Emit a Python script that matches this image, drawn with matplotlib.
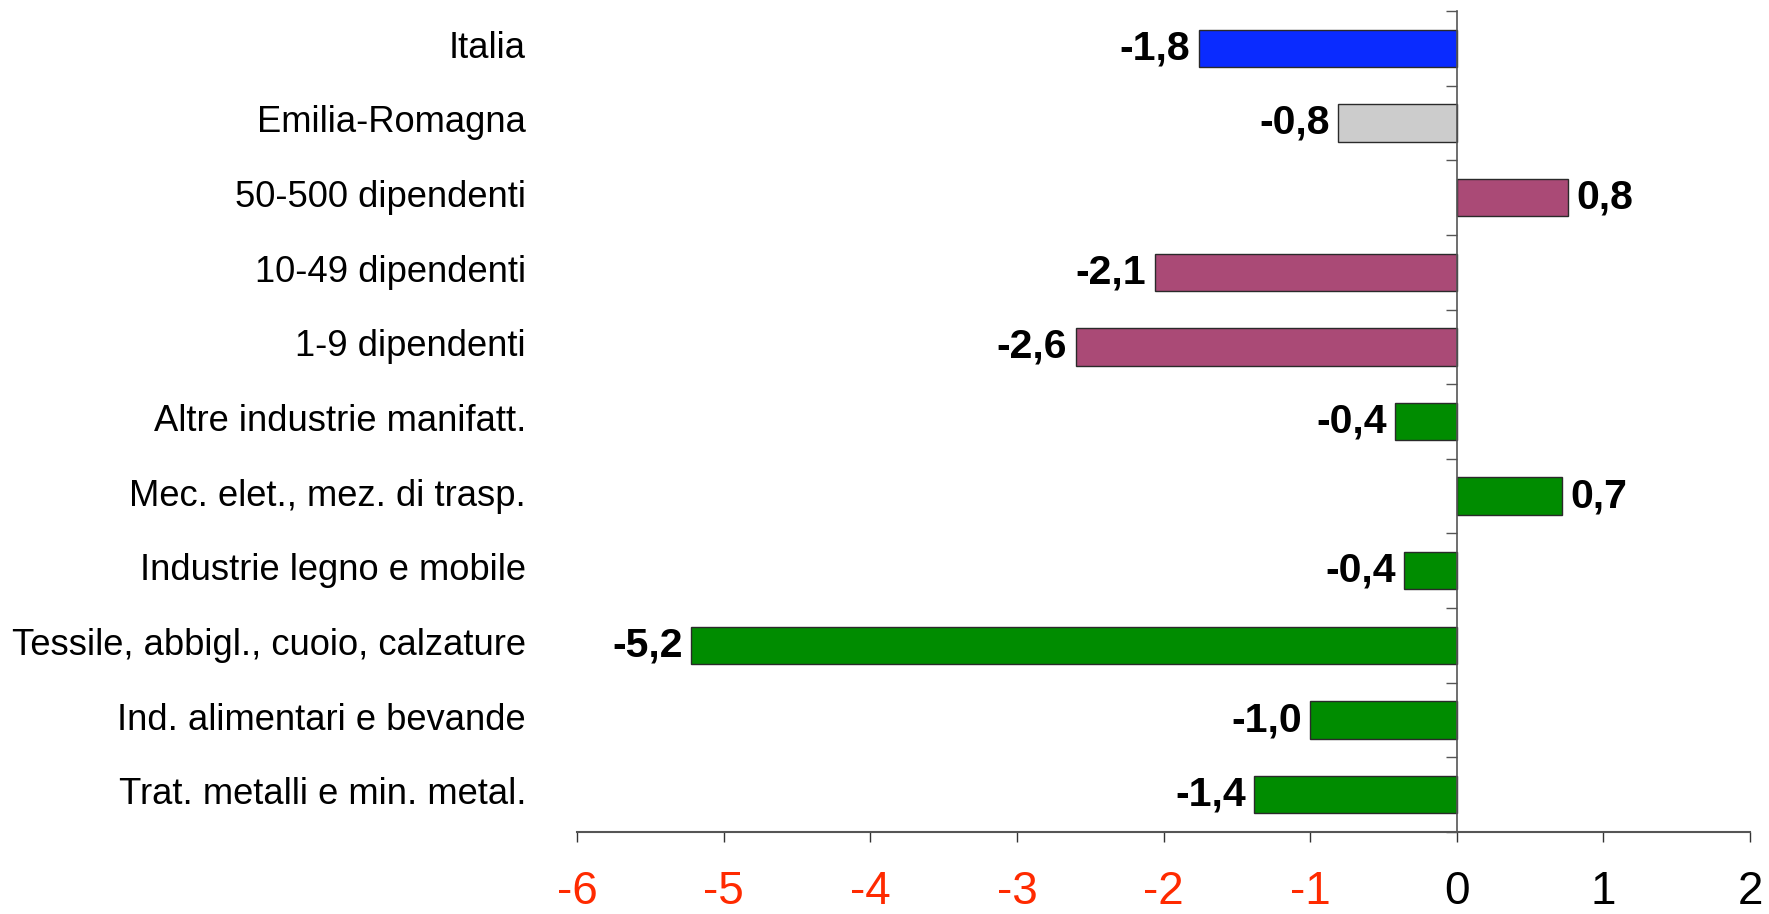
import matplotlib
matplotlib.use("Agg")
import matplotlib.pyplot as plt

categories = [
    "Italia",
    "Emilia-Romagna",
    "50-500 dipendenti",
    "10-49 dipendenti",
    "1-9 dipendenti",
    "Altre industrie manifatt.",
    "Mec. elet., mez. di trasp.",
    "Industrie legno e mobile",
    "Tessile, abbigl., cuoio, calzature",
    "Ind. alimentari e bevande",
    "Trat. metalli e min. metal.",
]
values = [-1.76, -0.81, 0.76, -2.06, -2.60, -0.42, 0.72, -0.36, -5.22, -1.00, -1.38]
value_labels = ["-1,8", "-0,8", "0,8", "-2,1", "-2,6", "-0,4", "0,7", "-0,4", "-5,2", "-1,0", "-1,4"]
bar_colors = ["#0A2BFF", "#CCCCCC", "#AA4A76", "#AA4A76", "#AA4A76",
              "#008C00", "#008C00", "#008C00", "#008C00", "#008C00", "#008C00"]
x_ticks = [-6, -5, -4, -3, -2, -1, 0, 1, 2]

plt.rcParams["font.family"] = ["Liberation Sans", "DejaVu Sans"]

fig = plt.figure(figsize=(17.69, 9.14), dpi=100)
ax = fig.add_axes([0.3262, 0.0897, 0.9893 - 0.3262, 0.988 - 0.0897])

n = len(categories)
ypos = [n - 1 - i for i in range(n)]
ax.barh(ypos, values, height=0.5, color=bar_colors, edgecolor="#2a2a2a", linewidth=1.0, zorder=2)

ax.set_xlim(-6, 2)
ax.set_ylim(-0.5, n - 0.5)

# spines
for s in ["top", "right"]:
    ax.spines[s].set_visible(False)
ax.spines["left"].set_position(("data", 0))
ax.spines["left"].set_color("#555555")
ax.spines["left"].set_linewidth(1.2)
ax.spines["bottom"].set_color("#555555")
ax.spines["bottom"].set_linewidth(1.5)

# y ticks at category boundaries, no labels
ax.set_yticks([i - 0.5 for i in range(n + 1)])
ax.set_yticklabels([])
ax.tick_params(axis="y", direction="out", length=8, width=1.0, color="#555555")

# x ticks
ax.set_xticks(x_ticks)
ax.set_xticklabels([str(t) for t in x_ticks], fontsize=33)
ax.tick_params(axis="x", direction="out", length=7.5, width=1.0, color="#333333", pad=20)
for lab, t in zip(ax.get_xticklabels(), x_ticks):
    lab.set_color("#FF2A00" if t < 0 else "black")

# category labels
trans = ax.get_yaxis_transform()
for y, c in zip(ypos, categories):
    ax.text(-0.0435, y, c, transform=trans, ha="right", va="center", fontsize=26.2, color="black")

# value labels
for y, v, lbl in zip(ypos, values, value_labels):
    if v < 0:
        ax.annotate(lbl, (v, y), xytext=(-6, 0), textcoords="offset points",
                    ha="right", va="center", fontsize=29.5, fontweight="bold")
    else:
        ax.annotate(lbl, (v, y), xytext=(6, 0), textcoords="offset points",
                    ha="left", va="center", fontsize=29.5, fontweight="bold")

fig.savefig("out.png", dpi=100)
